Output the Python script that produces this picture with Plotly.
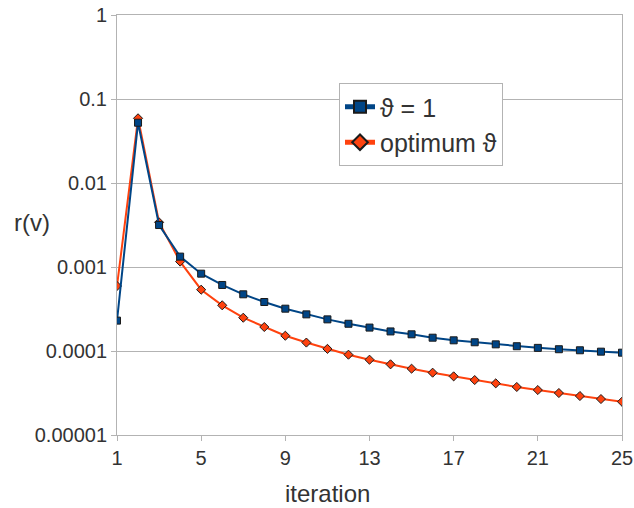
import plotly.graph_objects as go

iterations = list(range(1, 26))

# residual with fixed relaxation parameter
r_theta_one = [
    2.3e-4, 0.0522, 0.00316, 0.00133, 0.000833, 0.000611, 0.000473, 0.000383,
    0.000319, 0.000273, 0.000238, 0.000211, 0.000190, 0.000171, 0.000158,
    0.000144, 0.000134, 0.000127, 0.000120, 0.000114, 0.000109, 0.000105,
    0.000102, 9.82e-5, 9.55e-5,
]

# residual with optimum relaxation parameter
r_theta_opt = [
    5.94e-4, 0.0589, 0.0034, 0.00116, 0.000537, 0.000350, 0.000249, 0.000193,
    0.000152, 0.000126, 0.000106, 9.04e-5, 7.88e-5, 6.94e-5, 6.16e-5,
    5.52e-5, 4.99e-5, 4.51e-5, 4.12e-5, 3.73e-5, 3.43e-5, 3.16e-5,
    2.91e-5, 2.68e-5, 2.49e-5,
]

y_tick_vals = [1e-5, 1e-4, 1e-3, 1e-2, 1e-1, 1]
y_tick_text = ["0.00001", "0.0001", "0.001", "0.01", "0.1", "1"]
x_tick_vals = [1, 5, 9, 13, 17, 21, 25]

BLUE = "#004586"
ORANGE = "#ff420e"
GRID = "#b3b3b3"
TEXT = "#333333"
FONT = "Liberation Sans"

fig = go.Figure()
fig.add_trace(go.Scatter(
    x=iterations, y=r_theta_opt, name="optimum ϑ", mode="lines+markers",
    line=dict(color=ORANGE, width=2),
    marker=dict(symbol="diamond", size=7, color=ORANGE,
                line=dict(color="#1a1a1a", width=1)),
    legendrank=2,
))
fig.add_trace(go.Scatter(
    x=iterations, y=r_theta_one, name="ϑ = 1", mode="lines+markers",
    line=dict(color=BLUE, width=2),
    marker=dict(symbol="square", size=7, color=BLUE,
                line=dict(color="#1a1a1a", width=1)),
    legendrank=1,
))

fig.update_layout(
    width=634, height=508,
    margin=dict(l=117, r=12, t=15, b=73, autoexpand=False),
    paper_bgcolor="white", plot_bgcolor="white",
    font=dict(family=FONT, color=TEXT, size=20),
    showlegend=True,
    legend=dict(
        x=(339 - 117) / 505, y=(435 - 83) / 420, xanchor="left", yanchor="top",
        bgcolor="white", bordercolor=GRID, borderwidth=1,
        font=dict(size=25, color=TEXT, family=FONT),
        itemsizing="constant", tracegroupgap=0, itemwidth=30,
    ),
    xaxis=dict(
        range=[1, 25], tickvals=x_tick_vals, ticktext=[str(v) for v in x_tick_vals],
        showgrid=False, zeroline=False,
        showline=True, linecolor=GRID, linewidth=1, mirror=True,
        ticks="outside", ticklen=5, tickcolor=GRID,
        tickfont=dict(size=20, color=TEXT, family=FONT),
    ),
    yaxis=dict(
        type="log", range=[-5, 0], tickvals=y_tick_vals, ticktext=y_tick_text,
        showgrid=True, gridcolor=GRID, gridwidth=1, zeroline=False,
        showline=True, linecolor=GRID, linewidth=1, mirror=True,
        ticks="outside", ticklen=5, tickcolor=GRID,
        tickfont=dict(size=20, color=TEXT, family=FONT),
    ),
    annotations=[
        dict(text="r(v)", xref="paper", yref="paper", x=(32 - 117) / 505,
             y=(435 - 222) / 420, xanchor="center", yanchor="middle",
             showarrow=False, font=dict(size=24, color=TEXT, family=FONT)),
        dict(text="iteration", xref="paper", yref="paper", x=(327 - 117) / 505,
             y=-(493 - 435) / 420, xanchor="center", yanchor="middle",
             showarrow=False, font=dict(size=24, color=TEXT, family=FONT)),
    ],
)

fig.write_html("out.html")
